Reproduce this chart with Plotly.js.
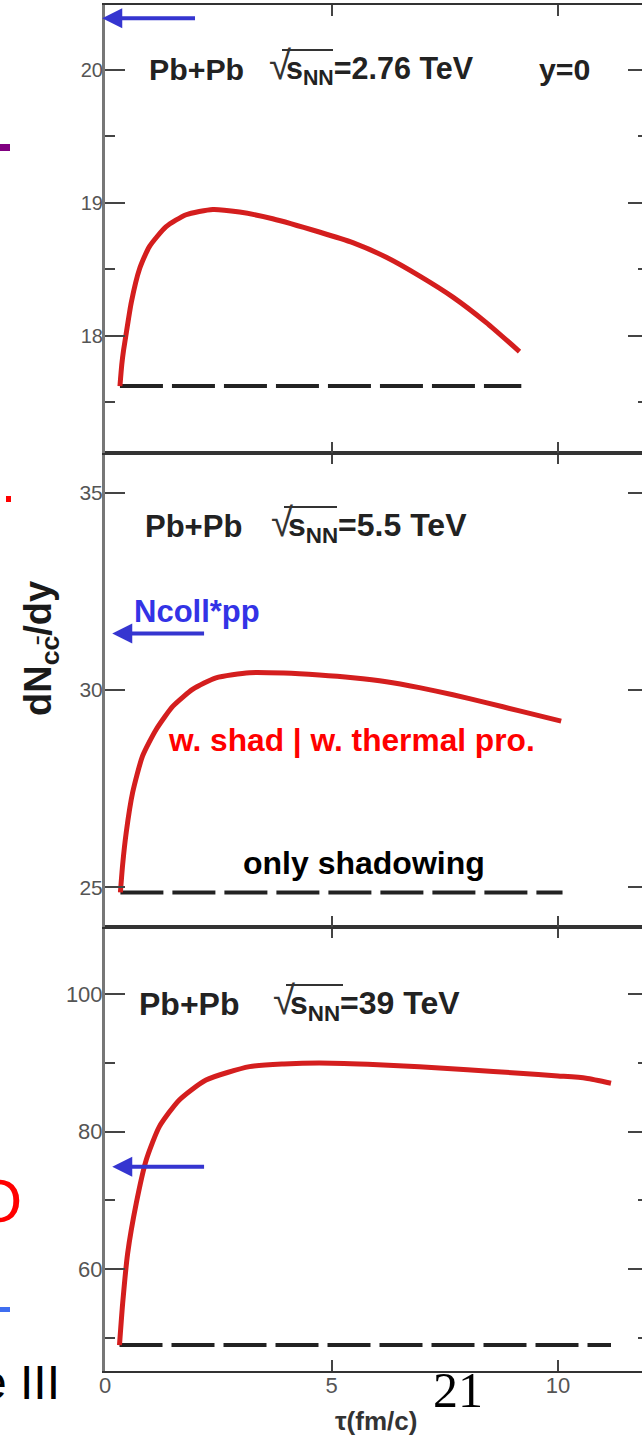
<!DOCTYPE html>
<html>
<head>
<meta charset="utf-8">
<script src="https://cdn.plot.ly/plotly-3.0.1.min.js"></script>
<style>
  html, body { margin: 0; padding: 0; background: #fff; overflow: hidden; width: 642px; height: 1440px; }
  #chart { width: 660px; height: 1440px; }
</style>
</head>
<body>
<div id="chart"></div>
<script>
// Charm yield dN_cc/dy versus proper time tau, Pb+Pb at y=0, three collision energies.
const energies = ['2.76', '5.5', '39'];

// sqrt(s_NN) = 2.76 TeV : shadowing + thermal production
const tau276 = [0.33, 0.37, 0.41, 0.47, 0.58, 0.76, 0.98, 1.35, 1.79, 2.38, 2.97, 3.70, 4.73, 5.47, 6.21, 6.94, 7.68, 8.41, 9.15];
const dndy276 = [17.62, 17.78, 17.89, 18.02, 18.25, 18.50, 18.67, 18.82, 18.91, 18.95, 18.93, 18.88, 18.78, 18.70, 18.59, 18.45, 18.29, 18.10, 17.88];

// sqrt(s_NN) = 5.5 TeV
const tau55 = [0.34, 0.39, 0.47, 0.61, 0.83, 1.13, 1.50, 1.94, 2.45, 3.19, 3.95, 4.73, 5.47, 6.21, 6.94, 7.68, 8.41, 9.15, 10.07];
const dndy55 = [24.87, 25.58, 26.40, 27.40, 28.33, 29.00, 29.59, 30.02, 30.31, 30.44, 30.43, 30.38, 30.31, 30.21, 30.06, 29.88, 29.68, 29.47, 29.21];

// sqrt(s_NN) = 39 TeV
const tau39 = [0.32, 0.39, 0.50, 0.69, 0.91, 1.20, 1.64, 2.23, 3.19, 3.95, 4.73, 5.80, 6.94, 8.00, 9.15, 10.00, 10.62, 11.17];
const dndy39 = [48.97, 55.04, 62.31, 69.59, 75.88, 80.73, 84.61, 87.52, 89.45, 89.85, 90.00, 89.80, 89.45, 89.00, 88.49, 88.10, 87.77, 87.04];

// "only shadowing" levels (constant in tau) and their tau extent
const shadowLevel = [17.62, 24.87, 48.97];
const shadowStart = [0.33, 0.34, 0.32];
const shadowEnd = [9.19, 10.10, 11.17];

// Ncoll * pp reference yields
const ncollPP = [20.39, 31.43, 74.9];
const arrowTip = [-0.06, 0.16, 0.16];
const arrowTail = [2.02, 2.22, 2.22];

// axis ticks
const xTicks = [0, 5, 10];
const yTicks276 = [18, 19, 20];
const yTicks55 = [25, 30, 35];
const yTicks39 = [60, 80, 100];

// ---- page geometry ----
const W = 660, H = 1440;
const M = { l: 105, r: 12, t: 5, b: 69 };
const pw = W - M.l - M.r, ph = H - M.t - M.b;
const fx = p => (p - M.l) / pw;
const fy = p => (H - M.b - p) / ph;
const splitHi = fy(453.3), splitLo = fy(926.7);

const SANS = 'Liberation Sans, Arial, sans-serif';
const SERIF = 'Liberation Serif, Times New Roman, serif';
const RED = '#d41e1e';

// panels: [x axis, y axis] from top to bottom
const panels = [
  { xa: 'x3', ya: 'y3', tau: tau276, val: dndy276 },
  { xa: 'x2', ya: 'y2', tau: tau55, val: dndy55 },
  { xa: 'x', ya: 'y', tau: tau39, val: dndy39 }
];

const traces = [];
panels.forEach((p, i) => {
  traces.push({
    type: 'scatter', mode: 'lines', x: [shadowStart[i], shadowEnd[i]], y: [shadowLevel[i], shadowLevel[i]],
    xaxis: p.xa, yaxis: p.ya, line: { color: '#222', width: 4, dash: '43px,9px' },
    hoverinfo: 'skip', showlegend: false
  });
  traces.push({
    type: 'scatter', mode: 'lines', x: p.tau, y: p.val,
    xaxis: p.xa, yaxis: p.ya, line: { color: RED, width: 5, shape: 'spline', smoothing: 0.6 },
    hoverinfo: 'skip', showlegend: false
  });
});

const xBase = {
  range: [0, pw / 45.3], tickvals: xTicks, ticks: 'inside', ticklen: 11, tickwidth: 2, tickcolor: '#444',
  showline: true, linecolor: '#333', linewidth: 2, mirror: 'ticks', showgrid: false, zeroline: false,
  tickfont: { family: SANS, size: 22, color: '#555' }, ticklabelstandoff: -6, fixedrange: true
};
const yBase = {
  ticks: 'inside', ticklen: 20, tickwidth: 2, tickcolor: '#444',
  showline: true, linecolor: '#777', linewidth: 3, mirror: 'ticks', showgrid: false, zeroline: false,
  ticklabelstandoff: -5, fixedrange: true
};

// annotations
const ann = [];
function txt(text, x, y, size, opts) {
  ann.push(Object.assign({
    text: text, xref: 'paper', yref: 'paper', x: fx(x), y: fy(y), xanchor: 'left', yanchor: 'middle',
    showarrow: false, font: { family: SANS, size: size, color: '#222', weight: 'bold' }
  }, opts || {}));
}
const labelRows = [69, 526, 1004];
const pbX = [147, 143, 137];
const pbSize = [30.3, 31, 32];
const rootX = [267, 269, 271];
const eSize = [30.5, 32, 32];
energies.forEach((e, i) => {
  txt('<span style="font-size:40px;font-weight:normal;fill:#333;letter-spacing:-5px">√</span>s<sub>NN</sub>=' + e + ' TeV',
      rootX[i], labelRows[i] - 2, eSize[i]);
  txt('Pb+Pb', pbX[i], labelRows[i], pbSize[i]);
});
txt('y=0', 537, 69, 30.3);

// Ncoll*pp arrows
panels.forEach((p, i) => {
  ann.push({
    text: '', xref: p.xa, yref: p.ya, axref: p.xa, ayref: p.ya,
    x: arrowTip[i], y: ncollPP[i], ax: arrowTail[i], ay: ncollPP[i],
    showarrow: true, arrowhead: 2, arrowsize: 1, arrowwidth: 4, arrowcolor: '#3535d0'
  });
});
txt('Ncoll*pp', 132, 611, 31, { font: { family: SANS, size: 31, color: '#3333e6', weight: 'bold' } });
txt('w. shad | w. thermal pro.', 166, 740, 31.7, { font: { family: SANS, size: 31.7, color: '#ff0000', weight: 'bold' } });
txt('only shadowing', 241, 863, 32, { font: { family: SANS, size: 32, color: '#000', weight: 'bold' } });
txt('dN<sub>cc\u0304</sub>/dy', 41, 649, 38, { xanchor: 'center', textangle: -90, font: { family: SANS, size: 38, color: '#1a1a1a', weight: 'bold' } });
txt('τ(fm/c)', 376, 1421, 26, { xanchor: 'center', font: { family: SANS, size: 26, color: '#333', weight: 'bold' } });
txt('21', 458, 1390, 50, { xanchor: 'center', font: { family: SERIF, size: 50, color: '#000' } });
txt('e III', 62, 1382, 48, { xanchor: 'right', font: { family: SANS, size: 48, color: '#000' } });
txt('O', 24, 1200, 62, { xanchor: 'right', font: { family: SANS, size: 62, color: '#ff0000' } });

// overbars of the radicals and small edge marks
const shapes = [];
const barY = [50, 507, 985];
const barX0 = [282, 284, 286];
const barX1 = [333, 337, 343];
barY.forEach((y, i) => {
  shapes.push({ type: 'line', xref: 'paper', yref: 'paper', x0: fx(barX0[i]), x1: fx(barX1[i]), y0: fy(y), y1: fy(y),
    line: { color: '#333', width: 2 } });
});
function rect(x0, x1, y0, y1, color) {
  shapes.push({ type: 'rect', xref: 'paper', yref: 'paper', x0: fx(x0), x1: fx(x1), y0: fy(y0), y1: fy(y1),
    line: { width: 0 }, fillcolor: color });
}
rect(0, 10, 144, 151, '#800080');
rect(6, 11, 496, 502, '#ff0000');
rect(0, 10, 1307, 1312, '#3f6ef0');

const layout = {
  width: W, height: H, margin: M, paper_bgcolor: '#fff', plot_bgcolor: '#fff', showlegend: false,
  xaxis: Object.assign({}, xBase, { anchor: 'y', domain: [0, 1], showticklabels: true }),
  xaxis2: Object.assign({}, xBase, { anchor: 'y2', domain: [0, 1], showticklabels: false }),
  xaxis3: Object.assign({}, xBase, { anchor: 'y3', domain: [0, 1], showticklabels: false }),
  yaxis: Object.assign({}, yBase, {
    anchor: 'x', domain: [0, splitLo], range: [45.2, 109.8], tickvals: yTicks39,
    minor: { dtick: 10, tick0: 0, ticks: 'inside', ticklen: 10, tickwidth: 2, tickcolor: '#444' },
    tickfont: { family: SANS, size: 22, color: '#555' }
  }),
  yaxis2: Object.assign({}, yBase, {
    anchor: 'x2', domain: [splitLo, splitHi], range: [24, 36], tickvals: yTicks55,
    tickfont: { family: SANS, size: 21, color: '#555' }
  }),
  yaxis3: Object.assign({}, yBase, {
    anchor: 'x3', domain: [splitHi, 1], range: [17.114, 20.489], tickvals: yTicks276,
    minor: { dtick: 0.5, tick0: 0, ticks: 'inside', ticklen: 10, tickwidth: 2, tickcolor: '#444' },
    tickfont: { family: SANS, size: 20, color: '#555' }
  }),
  annotations: ann,
  shapes: shapes
};

Plotly.newPlot('chart', traces, layout, { staticPlot: true, displayModeBar: false });
</script>
</body>
</html>
